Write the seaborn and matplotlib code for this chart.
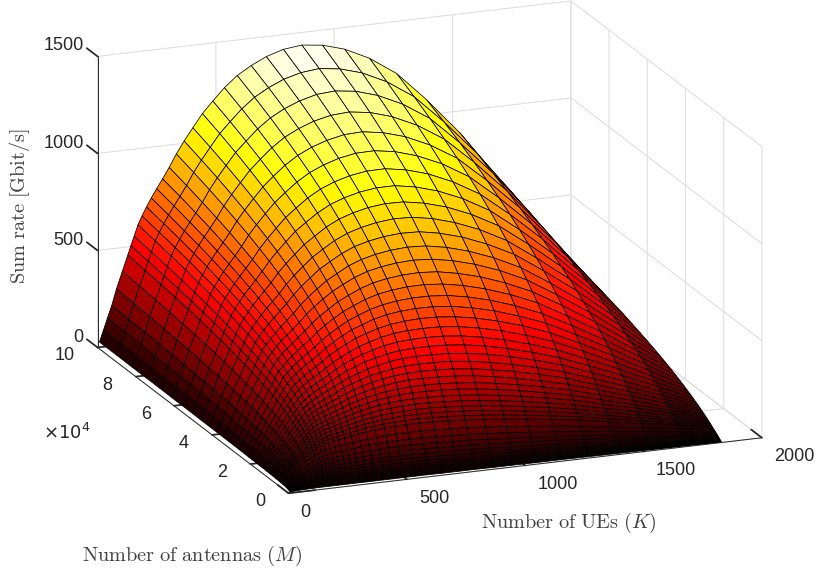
import numpy as np
import matplotlib
matplotlib.use("Agg")
import matplotlib.pyplot as plt
import seaborn as sns

K_values = [1830, 1682, 1529, 1390, 1264, 1149, 1044, 950, 863, 785, 713, 649, 590, 536, 487, 443, 403, 366, 333, 303,
            275, 250, 227, 207, 188, 171, 155, 141, 128, 105, 80, 60, 42, 25, 8]
M_values = [100000, 90900, 82600, 75100, 68300, 62100, 56400, 51300, 46700, 42400, 38600, 35000, 31900, 29000, 26300,
            23900, 21800, 19800, 18000, 16400, 14900, 13500, 12300, 11200, 10200, 9230, 8390, 7630, 6930, 6300, 5730,
            5210, 4740, 3910, 3240, 2670, 2210, 1830, 1510, 1250, 1030, 850, 700, 580, 440, 300, 150]
z_by_K = [
    [394,376,358,340,323,307,290,275,259,244,230,216,203,190,178,166,155,145,134,125,116,107,100,92,85,78,72,67,61,56,52,47,43,36,30,26,21,18,15,12,10,8,7,6,4,3,2],
    [649,620,591,563,536,509,482,457,432,408,385,362,340,319,299,280,262,244,227,212,197,182,169,157,145,134,123,114,105,96,88,81,75,63,53,44,37,31,25,21,18,15,12,10,8,5,3],
    [890,851,812,775,738,702,667,632,599,567,535,504,475,446,419,392,367,343,320,298,277,258,239,222,205,190,175,162,149,137,126,116,106,89,75,63,53,44,37,30,25,21,17,14,11,7,4],
    [1078,1032,987,943,899,857,815,774,734,695,657,620,585,551,517,486,455,426,398,371,346,322,299,277,257,238,220,203,187,173,159,146,134,113,95,80,67,56,47,39,32,27,22,18,14,10,5],
    [1231,1180,1130,1080,1032,984,937,891,847,803,761,719,679,640,603,566,532,498,466,435,406,379,352,327,304,281,261,241,222,205,189,174,160,135,114,95,80,67,56,46,39,32,26,22,17,11,6],
    [1326,1273,1220,1168,1117,1067,1017,969,922,876,830,786,744,702,662,623,585,550,515,482,450,420,391,364,338,314,291,269,249,230,212,195,180,152,128,108,91,76,63,53,44,36,30,25,19,13,7],
    [1388,1334,1280,1227,1175,1123,1073,1023,975,927,881,835,791,748,706,666,627,589,553,518,485,453,422,394,366,340,316,293,271,251,231,213,197,166,140,118,99,83,70,58,48,40,33,28,21,14,7],
    [1422,1368,1315,1262,1209,1158,1107,1057,1008,961,914,868,823,779,737,696,656,618,580,545,511,478,446,416,388,361,336,311,288,267,247,228,210,179,151,127,107,90,75,63,52,43,36,30,23,16,8],
    [1435,1382,1329,1277,1226,1175,1125,1076,1027,980,934,888,843,800,757,716,676,637,600,564,529,496,464,434,405,377,351,326,302,280,260,240,222,188,159,134,113,95,80,67,55,46,38,32,24,17,8],
    [1424,1372,1322,1271,1222,1173,1124,1076,1029,983,937,893,849,807,765,724,685,647,610,574,539,506,475,444,415,387,361,335,312,289,268,248,230,195,166,140,118,100,83,70,58,48,40,33,25,17,9],
    [1397,1348,1299,1251,1203,1157,1110,1064,1019,974,930,887,845,804,764,724,686,649,612,577,543,511,479,449,420,393,366,341,317,295,274,254,235,201,170,144,122,103,86,72,60,50,42,35,27,18,9],
    [1360,1314,1268,1222,1177,1132,1088,1044,1001,958,916,875,834,795,756,718,681,645,610,576,543,511,480,451,422,395,369,345,321,299,278,257,239,204,174,148,125,105,89,74,62,52,43,36,27,19,9],
    [1317,1273,1229,1186,1143,1101,1059,1018,977,936,897,857,819,781,744,707,672,637,604,571,539,508,478,449,422,395,370,345,322,300,279,260,241,207,177,150,127,108,90,76,63,53,44,37,28,19,10],
    [1262,1221,1180,1140,1100,1060,1021,982,944,906,868,832,795,759,724,690,656,623,591,560,529,500,471,444,417,391,367,343,320,299,279,259,241,207,177,151,128,109,91,77,64,54,45,37,29,20,10],
    [1200,1162,1124,1087,1050,1013,976,940,904,869,834,799,766,732,699,667,635,604,574,544,515,487,460,434,408,384,360,338,316,295,275,256,239,206,177,151,128,109,92,77,65,54,45,38,29,20,10],
    [1142,1107,1072,1037,1002,968,934,901,867,834,802,769,737,706,675,645,615,586,557,529,502,475,450,424,400,377,354,332,311,291,272,254,237,205,176,151,128,109,92,78,65,55,45,38,29,20,10],
    [1075,1043,1011,979,947,916,884,853,822,792,762,732,703,673,645,617,589,562,535,509,483,458,434,411,388,365,344,323,303,284,266,248,232,201,173,149,127,108,92,77,65,54,45,38,29,20,10],
    [1012,982,953,923,894,865,836,808,780,751,724,696,669,642,615,589,563,538,513,489,465,442,419,397,375,354,334,314,295,277,260,243,227,197,171,147,126,107,91,77,65,54,45,38,29,20,10],
    [950,923,896,869,842,816,789,763,737,711,685,660,635,610,585,561,537,514,491,468,446,424,403,382,362,342,323,304,287,269,253,237,222,193,167,144,124,106,90,76,64,54,45,38,29,20,10],
    [885,860,835,811,787,762,738,715,691,667,644,620,597,575,552,530,508,487,465,444,424,404,384,365,346,327,310,292,276,260,244,229,215,187,163,141,121,104,88,75,63,53,45,37,29,20,10],
    [830,808,785,763,740,718,696,674,652,630,609,588,566,545,525,504,484,464,444,424,405,387,368,350,333,316,299,283,267,252,237,223,209,183,160,138,119,103,88,75,63,53,45,37,29,20,10],
    [783,762,741,721,700,679,659,639,619,599,579,559,539,520,500,481,463,444,426,408,390,372,355,338,322,305,290,274,259,245,231,217,204,180,157,137,118,102,87,74,63,53,45,38,29,20,10],
    [738,719,699,681,662,643,624,605,586,568,550,531,513,495,477,460,442,425,408,391,374,358,342,326,310,295,280,266,252,238,225,212,200,176,154,135,117,101,87,74,63,53,45,38,29,20,10],
    [695,677,660,642,625,607,590,573,555,538,521,504,488,471,454,438,422,406,390,374,359,343,328,314,299,285,271,257,244,231,219,206,195,172,151,132,115,100,86,73,62,53,44,38,29,20,10],
    [651,635,619,603,586,571,555,539,523,507,492,476,461,445,430,415,400,385,371,356,342,328,314,300,286,273,260,248,235,223,211,200,189,167,148,129,113,98,84,73,62,52,44,37,29,20,10],
    [608,593,578,564,549,534,520,505,491,477,462,448,434,420,406,392,378,365,351,338,324,311,298,286,273,261,249,237,226,214,203,192,182,162,143,126,110,96,83,71,61,52,44,37,29,20,10],
    [552,539,526,513,500,487,474,461,448,435,423,410,397,385,372,360,348,335,323,311,299,288,276,265,254,242,231,221,210,200,190,180,171,152,135,119,105,92,79,68,59,50,42,36,28,20,10],
    [505,493,481,470,458,446,435,423,412,400,389,377,366,355,344,333,321,311,300,289,278,267,257,247,236,226,216,207,197,188,179,170,161,144,128,113,100,88,76,66,57,48,41,35,27,19,10],
    [458,447,437,427,416,406,396,385,375,365,355,345,334,324,314,305,295,285,275,265,256,246,237,228,219,210,201,192,183,175,166,158,150,135,121,107,94,83,72,63,54,46,39,34,26,19,10],
    [378,370,361,353,345,337,329,321,312,304,296,288,280,272,264,256,248,240,233,225,217,210,202,195,187,180,173,165,158,151,145,138,131,119,107,95,85,75,66,58,50,43,37,31,25,18,9],
    [290,284,278,272,266,260,254,249,243,237,231,225,219,213,208,202,196,190,185,179,173,168,162,156,151,146,140,135,130,124,119,114,109,99,90,81,73,65,57,50,44,38,33,28,23,16,9],
    [208,204,200,196,192,187,183,179,175,171,167,163,159,155,151,147,143,139,135,131,128,124,120,116,113,109,105,101,98,95,91,88,84,77,70,64,58,52,46,41,36,32,28,24,19,14,8],
    [146,143,141,138,135,133,130,127,125,122,119,117,114,111,109,106,103,101,98,95,93,91,88,86,83,81,78,76,73,71,68,66,64,59,55,50,46,42,37,34,30,27,23,20,17,12,7],
    [86,85,83,82,80,79,78,76,75,73,72,71,69,68,66,65,64,62,61,59,58,57,55,54,53,51,50,48,47,46,44,43,41,39,36,34,31,29,26,24,22,19,17,15,13,10,6],
    [27,27,26,26,26,25,25,25,24,24,24,23,23,23,22,22,21,21,21,20,20,20,19,19,19,18,18,17,17,17,16,16,16,14,14,13,12,12,11,10,9,9,8,7,7,5,4],
]
z_ticks = [0, 500, 1000, 1500]
K_ticks = [0, 500, 1000, 1500, 2000]
M_ticks = [0, 20000, 40000, 60000, 80000, 100000]
M_tick_labels = ["0", "2", "4", "6", "8", "10"]

sns.set_theme(style="white", rc={"font.family": ["Liberation Sans", "DejaVu Sans"], "mathtext.fontset": "cm"})
fig = plt.figure(figsize=(8.17, 5.73), dpi=100)
ax = fig.add_axes([0.0165, 0.0553, 1, 1], projection="3d")
ax.set_proj_type("ortho")
ax.view_init(elev=17.4, azim=-111.4)
ax.set_box_aspect((505, 520, 303), zoom=1.34)
ax.set_xlim(0, 2000, view_margin=0)
ax.set_ylim(0, 100000, view_margin=0)
ax.set_zlim(0, 1500, view_margin=0)

KK, MM = np.meshgrid(K_values, M_values, indexing="ij")
Z = np.array(z_by_K, dtype=float)
surf = ax.plot_surface(KK, MM, Z, cmap=sns.color_palette("hot", as_cmap=True), vmin=0, vmax=Z.max(),
                       rstride=1, cstride=1, edgecolor="black", linewidth=0.55, shade=False)
surf.set_clip_on(False)
ax.set_xticks(K_ticks)
ax.set_yticks(M_ticks, M_tick_labels)
ax.set_zticks(z_ticks)
for axis in (ax.xaxis, ax.yaxis, ax.zaxis):
    axis.set_pane_color((1, 1, 1, 1))
    axis.pane.set_edgecolor("white")
    axis.line.set_color("#262626")
    axis.line.set_linewidth(0.7)
    axis._axinfo["grid"].update(color="#dfdfdf", linewidth=0.8)
    axis._axinfo["tick"].update(inward_factor=0.0, outward_factor=0.7, color="#262626")
ax.zaxis._get_tickdir = lambda pos: 1
ax.tick_params(labelsize=13, colors="#262626")
ax.tick_params(axis="x", pad=5.5)
ax.tick_params(axis="y", pad=2.5)
ax.tick_params(axis="z", pad=-3.5)
plt.setp(ax.get_xticklabels(), ha="left", va="bottom")
plt.setp(ax.get_yticklabels(), ha="right", va="bottom")
plt.setp(ax.get_zticklabels(), ha="right", va="bottom")

LABEL = "#404040"
fig.text(20 / 817, 1 - 206 / 573, r"$\mathrm{Sum\ rate\ [Gbit/s]}$", rotation=90, ha="center", va="center", fontsize=14.6, color=LABEL)
fig.text(569 / 817, 1 - 523 / 573, r"$\mathrm{Number\ of\ UEs}\ (K)$", ha="center", va="center", fontsize=14.6, color=LABEL)
fig.text(192 / 817, 1 - 556 / 573, r"$\mathrm{Number\ of\ antennas}\ (M)$", ha="center", va="center", fontsize=14.6, color=LABEL)
fig.text(67 / 817, 1 - 433 / 573, r"$\times 10^4$", ha="center", va="center", fontsize=13, color="#262626",
         math_fontfamily="dejavusans")
fig.savefig("out.png", dpi=100)
